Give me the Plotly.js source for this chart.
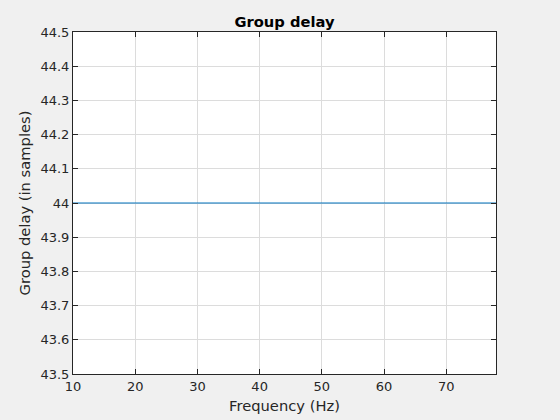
<!DOCTYPE html>
<html>
<head>
<meta charset="utf-8">
<script src="https://cdn.plot.ly/plotly-3.0.1.min.js"></script>
<style>html,body{margin:0;padding:0;background:#f0f0f0;}</style>
</head>
<body>
<div id="chart" style="width:560px;height:420px;"></div>
<script>
var freqHz = [10, 20, 30, 40, 50, 60, 70, 78];
var groupDelay = [44, 44, 44, 44, 44, 44, 44, 44];
var xTicks = [10, 20, 30, 40, 50, 60, 70];
var yTicks = [43.5, 43.6, 43.7, 43.8, 43.9, 44, 44.1, 44.2, 44.3, 44.4, 44.5];
var yTickText = ['43.5','43.6','43.7','43.8','43.9','44','44.1','44.2','44.3','44.4','44.5'];

var trace = {
  x: freqHz, y: groupDelay, type: 'scatter', mode: 'lines',
  line: {color: '#0072BD', width: 1}, hoverinfo: 'skip'
};
var axisCommon = {
  showline: true, linecolor: '#262626', linewidth: 1, mirror: 'ticks',
  ticks: 'inside', ticklen: 5, tickcolor: '#262626',
  showgrid: true, gridcolor: '#dcdcdc', gridwidth: 1, zeroline: false,
  tickfont: {family: 'DejaVu Sans', size: 13, color: '#262626'}
};
var layout = {
  width: 560, height: 420,
  paper_bgcolor: '#f0f0f0', plot_bgcolor: '#ffffff',
  margin: {l: 73, r: 64, t: 32, b: 46},
  showlegend: false,
  title: {text: '<b>Group delay</b>', x: 0.5, xref: 'paper', xanchor: 'center', y: 1, yref: 'paper', yanchor: 'bottom', pad: {b: 5},
    font: {family: 'DejaVu Sans', size: 14.7, color: '#000000'}},
  xaxis: Object.assign({}, axisCommon, {
    range: [10, 78], tickvals: xTicks,
    title: {text: 'Frequency (Hz)', standoff: 8, font: {family: 'DejaVu Sans', size: 14.7, color: '#262626'}}
  }),
  yaxis: Object.assign({}, axisCommon, {
    range: [43.5, 44.5], tickvals: yTicks, ticktext: yTickText,
    title: {text: 'Group delay (in samples)', standoff: 6, font: {family: 'DejaVu Sans', size: 14.7, color: '#262626'}}
  })
};
Plotly.newPlot('chart', [trace], layout, {staticPlot: true, displayModeBar: false});
</script>
</body>
</html>
